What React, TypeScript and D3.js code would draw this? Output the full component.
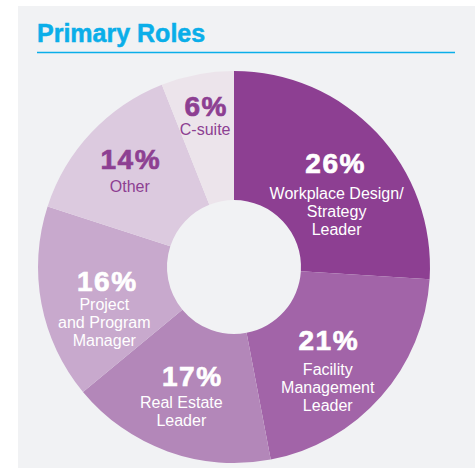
import React from "react";
import * as d3 from "d3";

const categories = [
  ["Workplace Design/", "Strategy", "Leader"],
  ["Facility", "Management", "Leader"],
  ["Real Estate", "Leader"],
  ["Project", "and Program", "Manager"],
  ["Other"],
  ["C-suite"],
];
const values = [26, 21, 17, 16, 14, 6];
const colors = ["#8d3f92", "#a264a8", "#b387b9", "#c8a9cd", "#dccadf", "#ece4eb"];
const textColors = ["#ffffff", "#ffffff", "#ffffff", "#ffffff", "#8d3f92", "#8d3f92"];
const title = "Primary Roles";

export default function App() {
  const W = 475, H = 469;
  const cx = 234, cy = 267;
  const outerR = 196, innerR = 67;
  const labelR = [138, 125, 126, 130, 143, 154];
  const subDx = [2, 0, -10, -2, 0, 0];
  const firstGap = [26, 25, 22, 19, 23, 19];
  const lineH = 18;

  const pie = d3.pie<number>().sort(null).value((d) => d).startAngle(0).endAngle(2 * Math.PI);
  const arcs = pie(values);
  const arcGen = d3.arc<d3.PieArcDatum<number>>().innerRadius(innerR).outerRadius(outerR);

  const font = "'Liberation Sans', Arial, Helvetica, sans-serif";

  return (
    <div style={{ position: "absolute", left: 0, top: 0 }}>
      <svg width={W} height={H} style={{ display: "block" }}>
        <rect x={0} y={0} width={W} height={H} fill="#ffffff" />
        <rect x={18} y={6} width={W - 18} height={462} fill="#f1f2f4" />
        <text x={37} y={42} fontFamily={font} fontWeight="bold" fontSize={25} fill="#0aaee9" stroke="#0aaee9" strokeWidth={0.5}>
          {title}
        </text>
        <line x1={37} x2={455} y1={52.5} y2={52.5} stroke="#0aaee9" strokeWidth={1.5} />
        <g transform={`translate(${cx},${cy})`}>
          {arcs.map((a, i) => (
            <path key={i} d={arcGen(a) || ""} fill={colors[i]} />
          ))}
          {arcs.map((a, i) => {
            const mid = (a.startAngle + a.endAngle) / 2;
            const x = Math.sin(mid) * labelR[i];
            const y = -Math.cos(mid) * labelR[i];
            return (
              <g key={"l" + i} fill={textColors[i]} fontFamily={font} textAnchor="middle">
                <text x={x + 1} y={y} fontSize={28} fontWeight="bold" letterSpacing={1.5}
                  stroke={textColors[i]} strokeWidth={0.7}>
                  {values[i] + "%"}
                </text>
                {categories[i].map((line, j) => (
                  <text key={j} x={x + subDx[i]} y={y + firstGap[i] + j * lineH} fontSize={16}>
                    {line}
                  </text>
                ))}
              </g>
            );
          })}
        </g>
      </svg>
    </div>
  );
}
